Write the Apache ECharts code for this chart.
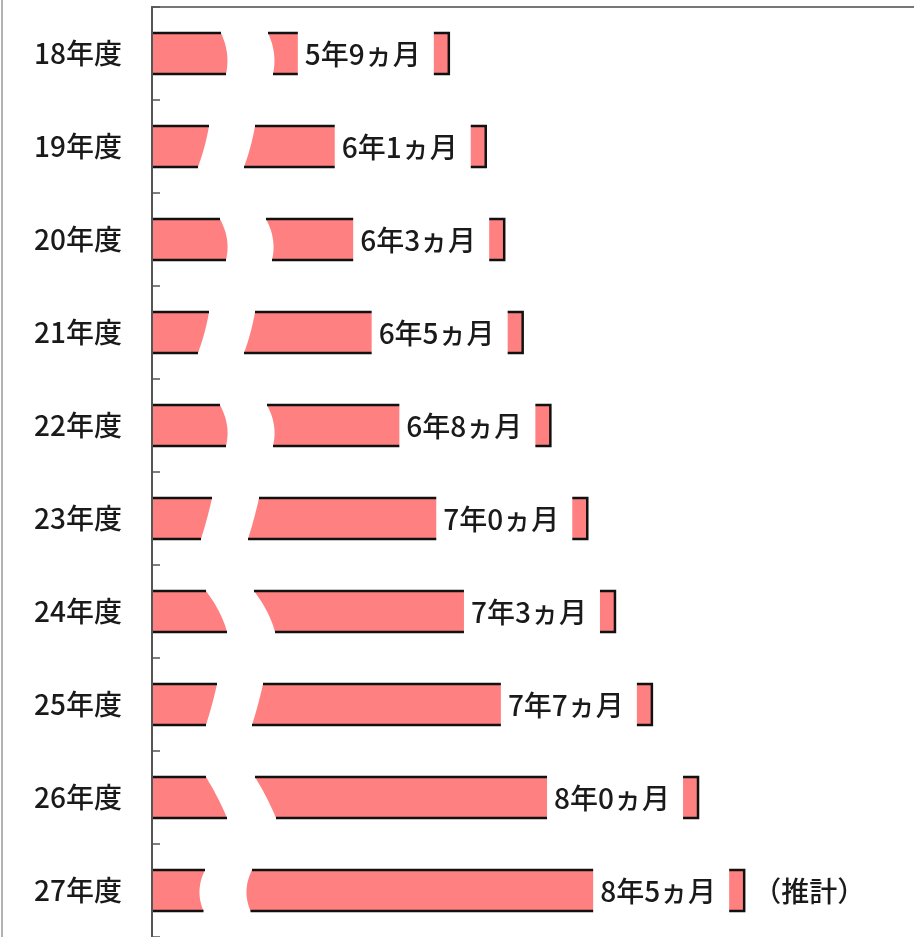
<!DOCTYPE html>
<html><head><meta charset="utf-8">
<script src="https://cdn.jsdelivr.net/npm/echarts@6/dist/echarts.min.js"></script>
<style>html,body{margin:0;padding:0;background:#fff}#c{width:914px;height:937px}</style>
</head><body><div id="c"></div>
<script>
// ---- data ----
const categories = ['18年度','19年度','20年度','21年度','22年度','23年度','24年度','25年度','26年度','27年度'];
const years  = [5, 6, 6, 6, 6, 7, 7, 7, 8, 8];
const months = [9, 1, 3, 5, 8, 0, 3, 7, 0, 5];
const notes  = ['', '', '', '', '', '', '', '', '', '（推計）'];

const values = years.map((y, i) => y + months[i] / 12);
const valueLabels = years.map((y, i) => y + '年' + months[i] + 'ヵ月');

// ---- decorative break shapes (pixel style: edge offset at top / middle / bottom, gap width) ----
const breakEdges = [
  [68, 74, 73, 47],
  [56, 51.5, 45, 46],
  [67, 74, 73, 46],
  [56, 51.5, 45, 46],
  [67, 74, 73, 47],
  [59, 54, 48, 47],
  [53, 66, 74, 48],
  [64, 59, 53, 46],
  [53, 64.5, 74, 49],
  [52, 46.5, 50.5, 47]
];

const FONT = '"Noto Sans CJK JP", "Noto Sans CJK SC", sans-serif';
const PINK = '#ff8080';
const INK = '#111';
const TEXT = '#1a1a1a';

function renderItem(params, api) {
  const v = api.value(0);
  const i = api.value(1);
  const cs = params.coordSys;
  const endPt = api.coord([v, i]);
  const x0 = cs.x + 1;
  const bandH = api.size([0, 1])[1];
  const h = bandH * 0.44;
  const cy = endPt[1];
  const top = cy - h / 2, bot = cy + h / 2;
  const xe = endPt[0];
  const [a, b, c, gap] = breakEdges[i];
  const N = 20;
  const edge = [];
  for (let k = 0; k <= N; k++) {
    const t = k / N;
    const dx = a * (1 - t) * (1 - 2 * t) + 4 * b * t * (1 - t) + c * t * (2 * t - 1);
    edge.push([x0 + dx, top + t * (bot - top)]);
  }
  const leftPts = [[x0, top]].concat(edge).concat([[x0, bot]]);
  const rightEdge = edge.map(p => [p[0] + gap, p[1]]);
  const rightPts = rightEdge.concat([[xe, bot], [xe, top]]);
  const lineStyle = { stroke: INK, lineWidth: 2.5, fill: null };
  const boxL = xe - 151;
  const children = [
    { type: 'polygon', shape: { points: leftPts }, style: { fill: PINK } },
    { type: 'polygon', shape: { points: rightPts }, style: { fill: PINK } },
    { type: 'polyline', shape: { points: [[x0, top], [x0 + a, top]] }, style: lineStyle },
    { type: 'polyline', shape: { points: [[x0, bot], [x0 + c, bot]] }, style: lineStyle },
    { type: 'polyline', shape: { points: [[x0 + a + gap, top], [xe, top], [xe, bot], [x0 + c + gap, bot]] }, style: lineStyle },
    { type: 'rect', shape: { x: boxL, y: top - 3, width: 136, height: bot - top + 6 }, style: { fill: '#fff' } },
    { type: 'text', style: { text: valueLabels[i], x: boxL + 7, y: cy + 1, align: 'left', verticalAlign: 'middle', font: '500 28px ' + FONT, fill: TEXT } }
  ];
  if (notes[i]) {
    children.push({ type: 'text', style: { text: notes[i], x: xe + 9, y: cy + 1, align: 'left', verticalAlign: 'middle', font: '500 28px ' + FONT, fill: TEXT } });
  }
  return { type: 'group', children: children };
}

const chart = echarts.init(document.getElementById('c'), null, { renderer: 'canvas' });
chart.setOption({
  animation: false,
  backgroundColor: '#fff',
  grid: { left: 152, right: 0, top: 7, bottom: -3 },
  xAxis: {
    type: 'value', position: 'top', min: 3.07, max: 9.95,
    axisLine: { show: true, onZero: false, lineStyle: { color: '#777', width: 2 } },
    axisTick: { show: false }, axisLabel: { show: false }, splitLine: { show: false }
  },
  yAxis: {
    type: 'category', data: categories, inverse: true, z: 10,
    axisLine: { show: true, lineStyle: { color: '#555', width: 2 } },
    axisTick: { show: true, inside: true, length: 8, lineStyle: { color: '#555', width: 1.5 } },
    axisLabel: { interval: 0, margin: 30, fontSize: 28, fontWeight: 500, fontFamily: FONT, color: TEXT }
  },
  graphic: [
    { type: 'line', shape: { x1: 2, y1: 0, x2: 2, y2: 937 }, style: { stroke: '#999', lineWidth: 1.5 } }
  ],
  series: [{
    type: 'custom',
    renderItem: renderItem,
    encode: { x: 0, y: 1 },
    data: values.map((v, i) => [v, i])
  }]
});
</script>
</body></html>
